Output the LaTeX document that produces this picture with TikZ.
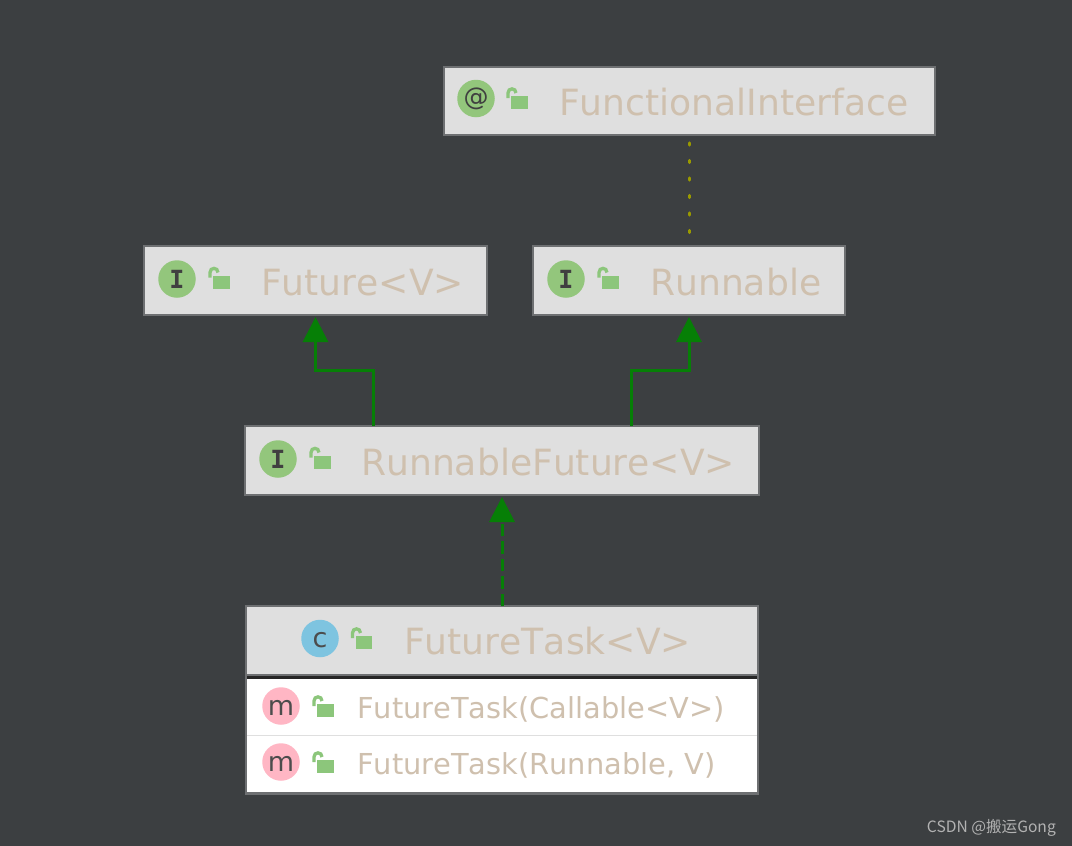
\documentclass[tikz,border=0pt]{standalone}
\usepackage{fontspec}
\setmainfont{DejaVu Sans}
\newfontfamily\iconfont{DejaVu Sans}
\newfontfamily\iconmono{DejaVu Sans Mono}
\newfontfamily\markfont{Noto Sans CJK SC}
\newfontfamily\boxfont[Kerning=Off]{DejaVu Sans}
\usetikzlibrary{arrows.meta}
\definecolor{bgc}{HTML}{3C3F41}
\definecolor{boxc}{HTML}{DFDFDF}
\definecolor{edgec}{HTML}{6E7072}
\definecolor{txtc}{HTML}{CFC0AE}
\definecolor{lockc}{HTML}{8CC67B}
\definecolor{linkc}{HTML}{067F06}
\definecolor{dotc}{HTML}{9A9A00}
\definecolor{igreen}{HTML}{93C67C}
\definecolor{iblue}{HTML}{7EC4E0}
\definecolor{ipink}{HTML}{FFB6C4}
\tikzset{
  x=1pt,y=-1pt,
  boxn/.style={draw=edgec,fill=boxc,line width=2pt,anchor=north west,inner sep=0pt,outer sep=0pt},
  title/.style={anchor=base west,inner sep=0pt,text=txtc,font=\boxfont\fontsize{36.1}{40}\selectfont},
  member/.style={anchor=base west,inner sep=0pt,text=txtc,font=\boxfont\fontsize{28.85}{34}\selectfont},
  iconn/.style={circle,inner sep=0pt,outer sep=0pt,minimum size=37.5pt,text=#1,font=\iconfont\fontsize{27}{27}\selectfont},
  iface/.style={font=\iconmono\bfseries\fontsize{25}{25}\selectfont},
  lowcase/.style={text height=18.5pt,text depth=0pt},
  lockicon/.pic={
    \fill[lockc] (0,0) rectangle (16.5,13);
    \draw[lockc,line width=3.3pt] (-3,2) -- (-3,-3) .. controls (-3,-8.5) and (5,-8.5) .. (5,-3);
  },
  link/.style={draw=linkc,line width=3pt},
  tip/.style={-{Triangle[width=25pt,length=25pt]},shorten >=2pt},
}
\begin{document}
\begin{tikzpicture}
\path[use as bounding box,fill=bgc] (0,0) rectangle (1072,846);
% boxes
\node[boxn,minimum width=491pt,minimum height=68pt] (fi) at (444,67) {};
\node[boxn,minimum width=343pt,minimum height=69pt] (future) at (144,246) {};
\node[boxn,minimum width=312pt,minimum height=69pt] (runnable) at (533,246) {};
\node[boxn,minimum width=514pt,minimum height=69pt] (rf) at (245,426) {};
\node[boxn,fill=white,minimum width=512pt,minimum height=188pt] (ft) at (246,606) {};
\node[boxn,minimum width=512pt,minimum height=69pt] (fthead) at (246,606) {};
\fill[black!85] (247,676) rectangle (757,679);
\fill[gray!25] (247,735) rectangle (757,736);
\fill[edgec] (247,792) rectangle (757,794);
% icons
\node[iconn=black!75,fill=igreen,font=\iconfont\fontsize{25}{25}\selectfont] (i1) at (476,98.5) {@};
\node[iconn=black!75,fill=igreen,iface] (i2) at (177,279) {I};
\node[iconn=black!75,fill=igreen,iface] (i3) at (566,279) {I};
\node[iconn=black!75,fill=igreen,iface] (i4) at (278,459) {I};
\node[iconn=black!70,fill=iblue,lowcase] (i5) at (320,638.5) {c};
\node[iconn=black!70,fill=ipink,lowcase] (i6) at (281,706) {m};
\node[iconn=black!70,fill=ipink,lowcase] (i7) at (281,762) {m};
% locks
\pic at (511,96) {lockicon};
\pic at (213,275.5) {lockicon};
\pic at (602,275.5) {lockicon};
\pic at (314,455.5) {lockicon};
\pic at (355.5,636) {lockicon};
\pic at (317,704) {lockicon};
\pic at (317,760) {lockicon};
% texts
\node[title] (t1) at (559,115) {FunctionalInterface};
\node[title] (t2) at (261,295) {Future<V>};
\node[title] (t3) at (650,295) {Runnable};
\node[title] (t4) at (361,475) {RunnableFuture<V>};
\node[title] (t5) at (404,654) {FutureTask<V>};
\node[member] (t6) at (357,718) {FutureTask(Callable<V>)};
\node[member] (t7) at (357,774) {FutureTask(Runnable, V)};
% connectors
\draw[dotc,line width=3.2pt,line cap=round,dash pattern=on 2pt off 15.5pt,dash phase=9.5pt] (fi.south) -- (runnable.north -| fi.south);
\draw[link,tip] ([xshift=-129pt]rf.north) -- ++(0,-56) -| (future.south);
\draw[link,tip] ([xshift=129pt]rf.north) -- ++(0,-56) -| (runnable.south);
\draw[link,tip,dash pattern=on 12.5pt off 5pt] (fthead.north) -- (rf.south);
\node[anchor=base east,inner sep=0pt,text=black!30!white,font=\markfont\fontsize{15.6}{18}\selectfont] (wm) at (1056,832) {CSDN @搬运Gong};
\end{tikzpicture}
\end{document}
